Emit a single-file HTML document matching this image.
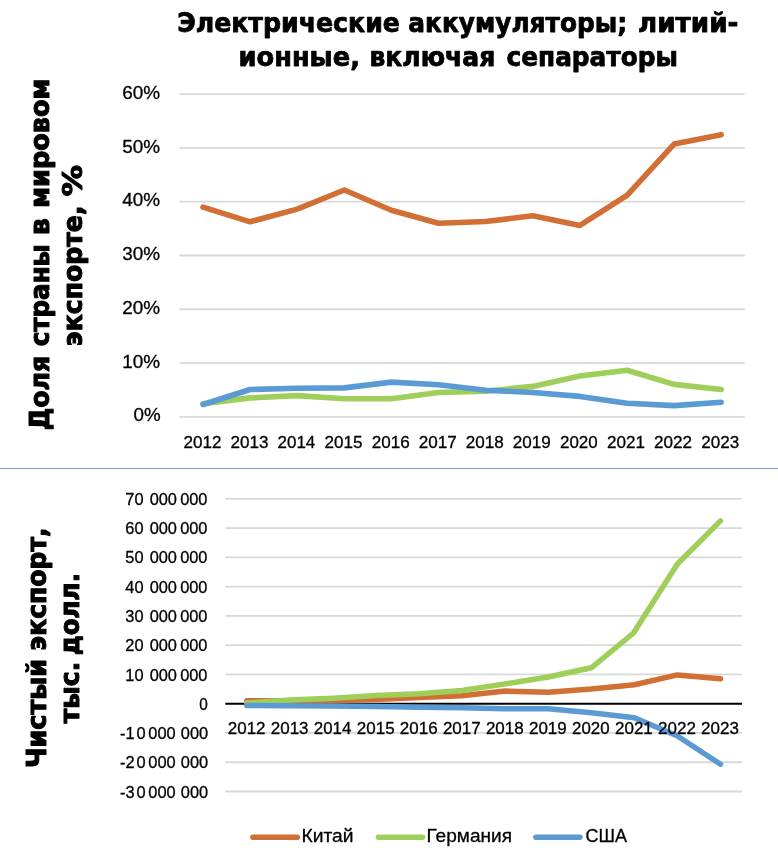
<!DOCTYPE html>
<html lang="ru"><head><meta charset="utf-8"><title>Электрические аккумуляторы; литий-ионные, включая сепараторы</title>
<style>
html,body{margin:0;padding:0;background:#fff}
svg{display:block}
text{fill:#000;stroke:#000;stroke-width:.3px;stroke-linejoin:round;white-space:pre}
.t{stroke-width:.75px;font-family:"DejaVu Sans Condensed","DejaVu Sans","Liberation Sans",sans-serif;font-weight:bold}
.v{stroke-width:1px}
.a{font-family:"Liberation Sans",Arial,sans-serif}
</style></head><body>
<svg width="778" height="856" viewBox="0 0 778 856">
<rect width="778" height="856" fill="#fff"/>
<g id="title">
<text class="t" font-size="27" y="32.30"><tspan x="177.16" textLength="222.77" lengthAdjust="spacingAndGlyphs">Электрические</tspan> <tspan x="408.31" textLength="218.81" lengthAdjust="spacingAndGlyphs">аккумуляторы;</tspan> <tspan x="638.11" textLength="100.23" lengthAdjust="spacingAndGlyphs">литий-</tspan></text>
<text class="t" font-size="27" y="65.60"><tspan x="238.59" textLength="121.35" lengthAdjust="spacingAndGlyphs">ионные,</tspan> <tspan x="369.43" textLength="125.82" lengthAdjust="spacingAndGlyphs">включая</tspan> <tspan x="506.51" textLength="171.36" lengthAdjust="spacingAndGlyphs">сепараторы</tspan></text>
</g>
<g id="chart-share">
<line x1="179.4" x2="744.8" y1="416.80" y2="416.80" stroke="#D9D9D9" stroke-width="1.8"/>
<line x1="179.4" x2="744.8" y1="363.03" y2="363.03" stroke="#D9D9D9" stroke-width="1.8"/>
<line x1="179.4" x2="744.8" y1="309.26" y2="309.26" stroke="#D9D9D9" stroke-width="1.8"/>
<line x1="179.4" x2="744.8" y1="255.49" y2="255.49" stroke="#D9D9D9" stroke-width="1.8"/>
<line x1="179.4" x2="744.8" y1="201.72" y2="201.72" stroke="#D9D9D9" stroke-width="1.8"/>
<line x1="179.4" x2="744.8" y1="147.95" y2="147.95" stroke="#D9D9D9" stroke-width="1.8"/>
<line x1="179.4" x2="744.8" y1="94.18" y2="94.18" stroke="#D9D9D9" stroke-width="1.8"/>
<text class="a" font-size="18.6" x="133.46" y="421.40" textLength="27.15" lengthAdjust="spacingAndGlyphs">0%</text>
<text class="a" font-size="18.6" x="122.16" y="367.63" textLength="37.85" lengthAdjust="spacingAndGlyphs">10%</text>
<text class="a" font-size="18.6" x="122.16" y="313.86" textLength="37.85" lengthAdjust="spacingAndGlyphs">20%</text>
<text class="a" font-size="18.6" x="122.16" y="260.09" textLength="37.85" lengthAdjust="spacingAndGlyphs">30%</text>
<text class="a" font-size="18.6" x="122.16" y="206.32" textLength="37.85" lengthAdjust="spacingAndGlyphs">40%</text>
<text class="a" font-size="18.6" x="122.16" y="152.55" textLength="37.85" lengthAdjust="spacingAndGlyphs">50%</text>
<text class="a" font-size="18.6" x="122.16" y="98.78" textLength="37.85" lengthAdjust="spacingAndGlyphs">60%</text>
<text class="a" font-size="16.6" x="183.40" y="447.90" textLength="37.99" lengthAdjust="spacingAndGlyphs">2012</text>
<text class="a" font-size="16.6" x="230.47" y="447.90" textLength="37.99" lengthAdjust="spacingAndGlyphs">2013</text>
<text class="a" font-size="16.6" x="277.55" y="447.90" textLength="37.72" lengthAdjust="spacingAndGlyphs">2014</text>
<text class="a" font-size="16.6" x="324.61" y="447.90" textLength="37.99" lengthAdjust="spacingAndGlyphs">2015</text>
<text class="a" font-size="16.6" x="371.68" y="447.90" textLength="37.99" lengthAdjust="spacingAndGlyphs">2016</text>
<text class="a" font-size="16.6" x="418.75" y="447.90" textLength="37.99" lengthAdjust="spacingAndGlyphs">2017</text>
<text class="a" font-size="16.6" x="465.82" y="447.90" textLength="37.99" lengthAdjust="spacingAndGlyphs">2018</text>
<text class="a" font-size="16.6" x="512.89" y="447.90" textLength="37.99" lengthAdjust="spacingAndGlyphs">2019</text>
<text class="a" font-size="16.6" x="559.97" y="447.90" textLength="37.72" lengthAdjust="spacingAndGlyphs">2020</text>
<text class="a" font-size="16.6" x="607.03" y="447.90" textLength="37.99" lengthAdjust="spacingAndGlyphs">2021</text>
<text class="a" font-size="16.6" x="654.10" y="447.90" textLength="37.99" lengthAdjust="spacingAndGlyphs">2022</text>
<text class="a" font-size="16.6" x="701.17" y="447.90" textLength="37.99" lengthAdjust="spacingAndGlyphs">2023</text>
<polyline points="203.0,207.1 250.1,221.8 297.2,209.1 344.3,190.0 391.4,210.2 438.5,223.3 485.7,221.5 532.8,215.8 579.9,225.4 627.0,195.3 674.1,144.1 721.2,134.8" fill="none" stroke="#D16F35" stroke-width="5.6" stroke-linecap="round" stroke-linejoin="round"/>
<polyline points="203.0,403.7 250.1,397.9 297.2,395.6 344.3,398.7 391.4,398.7 438.5,392.5 485.7,391.2 532.8,386.4 579.9,376.0 627.0,370.2 674.1,384.4 721.2,389.5" fill="none" stroke="#A0CE5A" stroke-width="5.6" stroke-linecap="round" stroke-linejoin="round"/>
<polyline points="203.0,404.5 250.1,389.5 297.2,388.3 344.3,387.9 391.4,382.1 438.5,384.8 485.7,390.2 532.8,392.5 579.9,396.4 627.0,403.3 674.1,405.6 721.2,402.2" fill="none" stroke="#5B9BD3" stroke-width="5.6" stroke-linecap="round" stroke-linejoin="round"/>
</g>
<g id="axis-titles">
<text class="t v" font-size="26.8" transform="translate(48.8,430.21) rotate(-90)"><tspan x="0.00" textLength="74.45" lengthAdjust="spacingAndGlyphs">Доля</tspan> <tspan x="83.96" textLength="102.09" lengthAdjust="spacingAndGlyphs">страны</tspan> <tspan x="195.03" textLength="17.13" lengthAdjust="spacingAndGlyphs">в</tspan> <tspan x="222.44" textLength="129.07" lengthAdjust="spacingAndGlyphs">мировом</tspan></text>
<text class="t v" font-size="26.8" transform="translate(81.8,346.21) rotate(-90)"><tspan x="0.00" textLength="140.67" lengthAdjust="spacingAndGlyphs">экспорте,</tspan> <tspan x="149.66" textLength="31.57" lengthAdjust="spacingAndGlyphs">%</tspan></text>
<text class="t v" font-size="26.8" transform="translate(46.0,768.07) rotate(-90)"><tspan x="0.00" textLength="109.09" lengthAdjust="spacingAndGlyphs">Чистый</tspan> <tspan x="117.36" textLength="123.16" lengthAdjust="spacingAndGlyphs">экспорт,</tspan></text>
<text class="t v" font-size="26.8" transform="translate(78.8,723.30) rotate(-90)"><tspan x="0.00" textLength="61.45" lengthAdjust="spacingAndGlyphs">тыс.</tspan> <tspan x="68.12" textLength="82.19" lengthAdjust="spacingAndGlyphs">долл.</tspan></text>
</g>
<rect x="0" y="468" width="778" height="1" fill="#8497D2"/>
<g id="chart-net-export">
<line x1="225.3" x2="742.0" y1="498.80" y2="498.80" stroke="#D9D9D9" stroke-width="1.8"/>
<line x1="225.3" x2="742.0" y1="528.07" y2="528.07" stroke="#D9D9D9" stroke-width="1.8"/>
<line x1="225.3" x2="742.0" y1="557.34" y2="557.34" stroke="#D9D9D9" stroke-width="1.8"/>
<line x1="225.3" x2="742.0" y1="586.61" y2="586.61" stroke="#D9D9D9" stroke-width="1.8"/>
<line x1="225.3" x2="742.0" y1="615.88" y2="615.88" stroke="#D9D9D9" stroke-width="1.8"/>
<line x1="225.3" x2="742.0" y1="645.15" y2="645.15" stroke="#D9D9D9" stroke-width="1.8"/>
<line x1="225.3" x2="742.0" y1="674.42" y2="674.42" stroke="#D9D9D9" stroke-width="1.8"/>
<line x1="225.3" x2="742.0" y1="732.96" y2="732.96" stroke="#D9D9D9" stroke-width="1.8"/>
<line x1="225.3" x2="742.0" y1="762.23" y2="762.23" stroke="#D9D9D9" stroke-width="1.8"/>
<line x1="225.3" x2="742.0" y1="791.50" y2="791.50" stroke="#D9D9D9" stroke-width="1.8"/>
<text class="a" font-size="16.4" y="504.90"><tspan x="125.30">70 </tspan><tspan x="149.65">000 </tspan><tspan x="180.14">000</tspan></text>
<text class="a" font-size="16.4" y="534.17"><tspan x="125.30">60 </tspan><tspan x="149.65">000 </tspan><tspan x="180.14">000</tspan></text>
<text class="a" font-size="16.4" y="563.44"><tspan x="125.30">50 </tspan><tspan x="149.65">000 </tspan><tspan x="180.14">000</tspan></text>
<text class="a" font-size="16.4" y="592.71"><tspan x="125.30">40 </tspan><tspan x="149.65">000 </tspan><tspan x="180.14">000</tspan></text>
<text class="a" font-size="16.4" y="621.98"><tspan x="125.30">30 </tspan><tspan x="149.65">000 </tspan><tspan x="180.14">000</tspan></text>
<text class="a" font-size="16.4" y="651.25"><tspan x="125.30">20 </tspan><tspan x="149.65">000 </tspan><tspan x="180.14">000</tspan></text>
<text class="a" font-size="16.4" y="680.52"><tspan x="125.30">10 </tspan><tspan x="149.65">000 </tspan><tspan x="180.14">000</tspan></text>
<text class="a" font-size="16.4" x="199.27" y="709.79" textLength="8.56" lengthAdjust="spacingAndGlyphs">0</text>
<text class="a" font-size="16.4" y="739.06"><tspan x="120.08">-1</tspan><tspan x="136.54">0 </tspan><tspan x="148.34">000 </tspan><tspan x="180.85">000</tspan></text>
<text class="a" font-size="16.4" y="768.33"><tspan x="120.08">-2</tspan><tspan x="136.54">0 </tspan><tspan x="148.34">000 </tspan><tspan x="180.85">000</tspan></text>
<text class="a" font-size="16.4" y="797.60"><tspan x="120.08">-3</tspan><tspan x="136.54">0 </tspan><tspan x="148.34">000 </tspan><tspan x="180.85">000</tspan></text>
<line x1="225.3" x2="742.0" y1="703.69" y2="703.69" stroke="#000" stroke-width="1.9"/>
<polyline points="246.8,700.8 289.9,700.8 332.9,700.8 376.0,699.6 419.1,697.5 462.1,695.7 505.2,691.1 548.2,692.3 591.3,689.0 634.4,684.7 677.4,674.9 720.5,678.8" fill="none" stroke="#D16F35" stroke-width="5.5" stroke-linecap="round" stroke-linejoin="round"/>
<polyline points="246.8,703.1 289.9,700.1 332.9,698.2 376.0,695.6 419.1,693.7 462.1,690.5 505.2,683.9 548.2,677.0 591.3,667.8 633.5,633.0 677.4,564.0 720.5,520.9" fill="none" stroke="#A0CE5A" stroke-width="5.5" stroke-linecap="round" stroke-linejoin="round"/>
<polyline points="246.8,705.4 289.9,705.7 332.9,705.9 376.0,706.4 419.1,707.2 462.1,707.8 505.2,708.8 548.2,708.8 591.3,712.7 634.4,717.8 677.4,736.0 720.5,764.2" fill="none" stroke="#5B9BD3" stroke-width="5.5" stroke-linecap="round" stroke-linejoin="round"/>
<text class="a" font-size="16.6" x="227.75" y="733.70" textLength="37.78" lengthAdjust="spacingAndGlyphs">2012</text>
<text class="a" font-size="16.6" x="270.78" y="733.70" textLength="37.78" lengthAdjust="spacingAndGlyphs">2013</text>
<text class="a" font-size="16.6" x="313.82" y="733.70" textLength="37.51" lengthAdjust="spacingAndGlyphs">2014</text>
<text class="a" font-size="16.6" x="356.84" y="733.70" textLength="37.78" lengthAdjust="spacingAndGlyphs">2015</text>
<text class="a" font-size="16.6" x="399.87" y="733.70" textLength="37.78" lengthAdjust="spacingAndGlyphs">2016</text>
<text class="a" font-size="16.6" x="442.90" y="733.70" textLength="37.78" lengthAdjust="spacingAndGlyphs">2017</text>
<text class="a" font-size="16.6" x="485.93" y="733.70" textLength="37.78" lengthAdjust="spacingAndGlyphs">2018</text>
<text class="a" font-size="16.6" x="528.96" y="733.70" textLength="37.78" lengthAdjust="spacingAndGlyphs">2019</text>
<text class="a" font-size="16.6" x="572.00" y="733.70" textLength="37.51" lengthAdjust="spacingAndGlyphs">2020</text>
<text class="a" font-size="16.6" x="615.02" y="733.70" textLength="37.78" lengthAdjust="spacingAndGlyphs">2021</text>
<text class="a" font-size="16.6" x="658.05" y="733.70" textLength="37.78" lengthAdjust="spacingAndGlyphs">2022</text>
<text class="a" font-size="16.6" x="701.08" y="733.70" textLength="37.78" lengthAdjust="spacingAndGlyphs">2023</text>
</g>
<g id="legend">
<line x1="252.89999999999998" x2="297.3" y1="837.2" y2="837.2" stroke="#D16F35" stroke-width="5.5" stroke-linecap="round"/>
<text class="a" font-size="19" x="301.55" y="841.90" textLength="52.03" lengthAdjust="spacingAndGlyphs">Китай</text>
<line x1="378.4" x2="422.5" y1="837.2" y2="837.2" stroke="#A0CE5A" stroke-width="5.5" stroke-linecap="round"/>
<text class="a" font-size="19" x="426.56" y="841.90" textLength="85.48" lengthAdjust="spacingAndGlyphs">Германия</text>
<line x1="535.8000000000001" x2="579.9" y1="837.2" y2="837.2" stroke="#5B9BD3" stroke-width="5.5" stroke-linecap="round"/>
<text class="a" font-size="19" x="585.61" y="841.90" textLength="41.46" lengthAdjust="spacingAndGlyphs">США</text>
</g>
</svg></body></html>
